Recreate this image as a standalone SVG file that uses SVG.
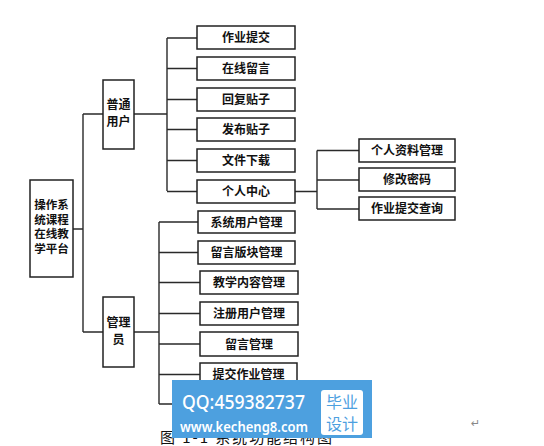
<svg xmlns="http://www.w3.org/2000/svg" width="544" height="446" viewBox="0 0 544 446">
<style>
.box{fill:#fff;stroke:#222;stroke-width:1.5}
.t{font-family:"Noto Sans CJK SC","Liberation Sans",sans-serif;font-size:12px;font-weight:bold;fill:#111;text-anchor:middle}
.r{font-size:11.5px}
.ln{stroke:#2a2a2a;stroke-width:1.4;fill:none}
.wm{font-family:"Noto Sans CJK SC",sans-serif;font-size:16px;fill:#4da0df;text-anchor:middle}
</style>
<rect width="544" height="446" fill="#fff"/>
<g id="connectors">
<path class="ln" d="M73 229H83M83 114V332M83 114H103M83 332H103"/>
<path class="ln" d="M134 114H167M167 38V191M167 38H197M167 68.5H197M167 99.5H197M167 129.5H197M167 160.5H197M167 191.5H197"/>
<path class="ln" d="M295 191.5H317M317 150.5V209M317 150.5H359M317 180H359M317 209H359"/>
<path class="ln" d="M134 332H159M159 222V404M159 222H198M159 252.5H198M159 282.5H200M159 313.5H200M159 344H200M159 374.5H200M159 404H200"/>
</g>
<g id="root"><rect class="box" x="30" y="180" width="43" height="97"/>
<text class="t r" x="51.5" y="209">操作系</text><text class="t r" x="51.5" y="223.5">统课程</text><text class="t r" x="51.5" y="238">在线教</text><text class="t r" x="51.5" y="252.5">学平台</text></g>
<g id="user"><rect class="box" x="103" y="80" width="31" height="69"/><text class="t" x="118.5" y="109">普通</text><text class="t" x="118.5" y="126">用户</text></g>
<g id="admin"><rect class="box" x="103" y="297" width="31" height="70"/><text class="t" x="118.5" y="327">管理</text><text class="t" x="118.5" y="344">员</text></g>
<g id="u1"><rect class="box" x="197" y="26" width="98" height="23"/><text class="t" x="246" y="42">作业提交</text></g>
<g id="u2"><rect class="box" x="197" y="57" width="98" height="23"/><text class="t" x="246" y="73">在线留言</text></g>
<g id="u3"><rect class="box" x="197" y="88" width="98" height="23"/><text class="t" x="246" y="104">回复贴子</text></g>
<g id="u4"><rect class="box" x="197" y="118" width="98" height="23"/><text class="t" x="246" y="134">发布贴子</text></g>
<g id="u5"><rect class="box" x="197" y="149" width="98" height="23"/><text class="t" x="246" y="165">文件下载</text></g>
<g id="u6"><rect class="box" x="197" y="180" width="98" height="23"/><text class="t" x="246" y="196">个人中心</text></g>
<g id="p1"><rect class="box" x="359" y="139" width="96" height="23"/><text class="t" x="407" y="155">个人资料管理</text></g>
<g id="p2"><rect class="box" x="359" y="168" width="96" height="23"/><text class="t" x="407" y="184">修改密码</text></g>
<g id="p3"><rect class="box" x="359" y="197" width="96" height="23"/><text class="t" x="407" y="213">作业提交查询</text></g>
<g id="a1"><rect class="box" x="198" y="211" width="97" height="22"/><text class="t" x="246.5" y="226.5">系统用户管理</text></g>
<g id="a2"><rect class="box" x="198" y="241" width="97" height="23"/><text class="t" x="246.5" y="257">留言版块管理</text></g>
<g id="a3"><rect class="box" x="200" y="271" width="98" height="23"/><text class="t" x="249" y="287">教学内容管理</text></g>
<g id="a4"><rect class="box" x="200" y="302" width="98" height="23"/><text class="t" x="249" y="318">注册用户管理</text></g>
<g id="a5"><rect class="box" x="200" y="332" width="98" height="24"/><text class="t" x="249" y="348.5">留言管理</text></g>
<g id="a6"><rect class="box" x="200" y="363" width="97" height="23"/><text class="t" x="248.5" y="379">提交作业管理</text></g>
<text x="160" y="443" font-family="Noto Sans CJK SC,Liberation Serif,serif" font-size="15" fill="#111" textLength="172" lengthAdjust="spacing">图 1-1 系统功能结构图</text>
<text x="471" y="427" font-family="DejaVu Sans,sans-serif" font-size="11" fill="#888">↵</text>
<g id="watermark">
<rect x="172" y="380" width="200" height="58" fill="#4da0df"/>
<text x="182" y="409" font-family="Noto Sans,sans-serif" font-size="19" font-weight="500" fill="#fff" textLength="123" lengthAdjust="spacingAndGlyphs">QQ:459382737</text>
<text x="180" y="432" font-family="Noto Sans,sans-serif" font-size="15" font-weight="600" fill="#fff" textLength="128" lengthAdjust="spacingAndGlyphs">www.kecheng8.com</text>
<rect x="321" y="390" width="42" height="45" rx="3" fill="#fff"/>
<text class="wm" x="342" y="408">毕业</text>
<text class="wm" x="342" y="430">设计</text>
</g>
</svg>
